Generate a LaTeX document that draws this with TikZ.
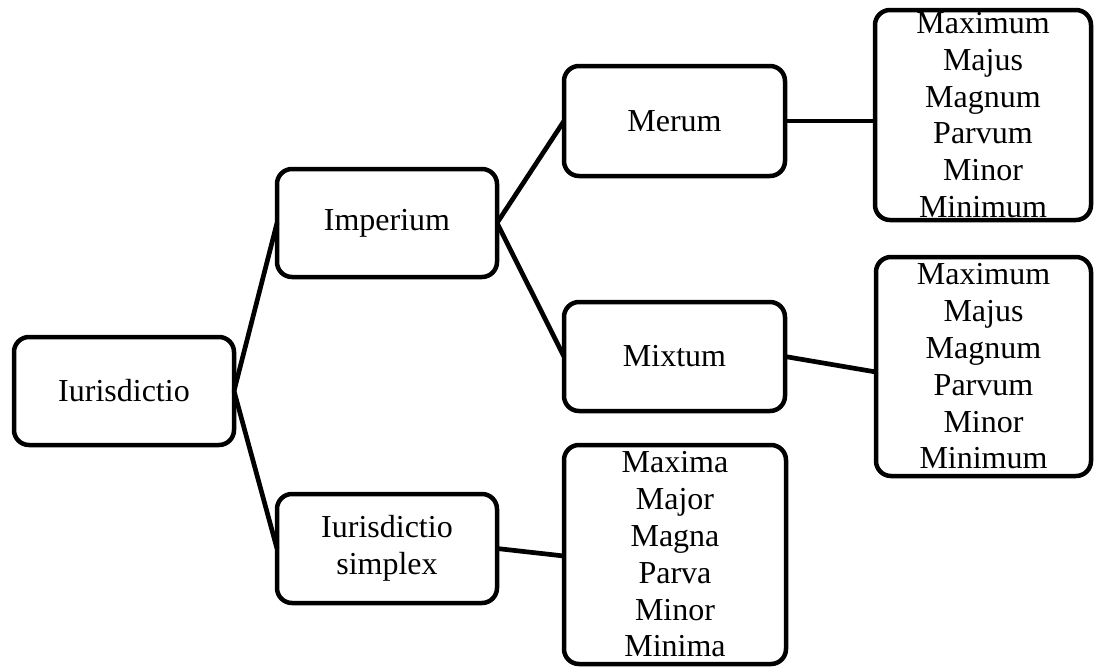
\documentclass[tikz,border=0pt]{standalone}
\usepackage{fontspec}
\setmainfont{Liberation Serif}
\begin{document}
\begin{tikzpicture}[x=1pt,y=-1pt,
  box/.style={draw=black, line width=4.5pt, rounded corners=15pt, align=center,
    inner sep=0pt, outer sep=0pt, font=\fontsize{32}{36.8}\selectfont},
  conn/.style={draw=black, line width=4.7pt}]
\useasboundingbox (0,0) rectangle (1095,670);
\node[box, minimum width=220pt, minimum height=108pt] (iur) at (124,391) {Iurisdictio};
\node[box, minimum width=220pt, minimum height=108pt] (imp) at (387,223) {Imperium};
\node[box, minimum width=220pt, minimum height=109pt] (sim) at (387,548.5) {Iurisdictio\\simplex};
\node[box, minimum width=221pt, minimum height=110pt] (mer) at (674.5,121) {Merum};
\node[box, minimum width=221pt, minimum height=109pt] (mix) at (674.5,356.5) {Mixtum};
\node[box, minimum width=216pt, minimum height=210pt] (merL) at (983,115)
  {Maximum\\Majus\\Magnum\\Parvum\\Minor\\Minimum};
\node[box, minimum width=215pt, minimum height=219pt] (mixL) at (983.5,366.5)
  {Maximum\\Majus\\Magnum\\Parvum\\Minor\\Minimum};
\node[box, minimum width=222pt, minimum height=219pt] (simL) at (675,554.5)
  {Maxima\\Major\\Magna\\Parva\\Minor\\Minima};
\draw[conn] (iur.east) -- (imp.west);
\draw[conn] (iur.east) -- (sim.west);
\draw[conn] (imp.east) -- (mer.west);
\draw[conn] (imp.east) -- (mix.west);
\draw[conn] (mer.east) -- (mer.east -| merL.west);
\draw[conn] (mix.east) -- ([yshift=-5.5pt]mixL.west);
\draw[conn] (sim.east) -- ([yshift=-1.5pt]simL.west);
\end{tikzpicture}
\end{document}
